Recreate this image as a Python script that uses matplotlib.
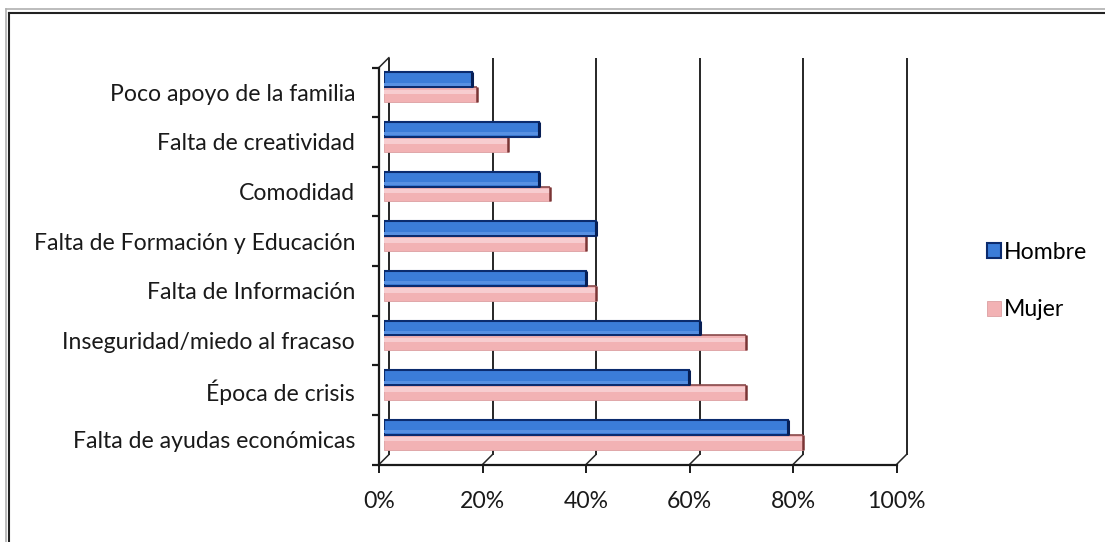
import matplotlib
matplotlib.use("Agg")
import matplotlib.pyplot as plt
from matplotlib import font_manager as fm
from matplotlib.transforms import ScaledTranslation, blended_transform_factory
from matplotlib.patches import ConnectionPatch
from matplotlib.lines import Line2D
import numpy as np

# ---------------- data ----------------
categories = [
    "Poco apoyo de la familia",
    "Falta de creatividad",
    "Comodidad",
    "Falta de Formación y Educación",
    "Falta de Información",
    "Inseguridad/miedo al fracaso",
    "Época de crisis",
    "Falta de ayudas económicas",
]
hombre = [0.17, 0.30, 0.30, 0.41, 0.39, 0.61, 0.59, 0.78]
mujer = [0.18, 0.24, 0.32, 0.39, 0.41, 0.70, 0.70, 0.81]
series_names = ["Hombre", "Mujer"]
xticks = [0.0, 0.2, 0.4, 0.6, 0.8, 1.0]
xticklabels = ["0%", "20%", "40%", "60%", "80%", "100%"]

# ---------------- font ----------------
avail = {f.name for f in fm.fontManager.ttflist}
family = next((f for f in ["Lato", "Open Sans", "DejaVu Sans"] if f in avail),
              "DejaVu Sans")
plt.rcParams["font.family"] = [family, "DejaVu Sans"]

W, H, DPI = 1105, 542, 100
fig = plt.figure(figsize=(W / DPI, H / DPI), dpi=DPI)
fig.patch.set_facecolor("white")

# axes at mid depth of the 3D box
ax = fig.add_axes([384 / W, 1 - 459.5 / H, 517.5 / W, 397 / H])
ax.set_xlim(0, 1)
ax.set_ylim(-0.5, len(categories) - 0.5)
ax.axis("off")

def px(dx, dy):
    return ScaledTranslation(dx / DPI, dy / DPI, fig.dpi_scale_trans)

D = 5.0
back = ax.transData + px(D, D)
front = ax.transData + px(-D, -D)

n = len(categories)
ypos = np.arange(n)[::-1]  # first category at top
ytop = n - 0.5
ybot = -0.5

# fit font size to the reference label width
renderer = fig.canvas.get_renderer()
t = fig.text(0, 0, categories[-1], fontsize=16)
wpx = t.get_window_extent(renderer).width
t.remove()
fs = 16 * 282.0 / wpx

grid_c = "#262626"
# back wall gridlines
for v in xticks:
    ax.plot([v, v], [ybot, ytop], transform=back, color=grid_c, lw=1.4, zorder=1,
            solid_capstyle="butt", clip_on=False)
# floor depth lines
for v in xticks:
    cp = ConnectionPatch(xyA=(v, ybot), coordsA=front, xyB=(v, ybot), coordsB=back,
                         color=grid_c, lw=1.1, zorder=1, clip_on=False)
    ax.add_artist(cp)
# left wall top depth line
ax.add_artist(ConnectionPatch(xyA=(0, ytop), coordsA=front, xyB=(0, ytop), coordsB=back,
                              color=grid_c, lw=1.1, zorder=1, clip_on=False))

# bars
h = 0.30
mb = ax.barh(ypos - h / 2, mujer, height=h, color="#f2b2b4", edgecolor="#dc9fa2",
             linewidth=0.6, zorder=3, label=series_names[1])
hb = ax.barh(ypos + h / 2, hombre, height=h, color="#3b7cd8", edgecolor="#0b2b6e",
             linewidth=1.5, zorder=4, label=series_names[0])
# highlight strips
ax.barh(ypos + h / 2 - h * 0.30, hombre, height=h * 0.20, color="#5790e2",
        linewidth=0, zorder=4.5)
ax.barh(ypos - h / 2 + h * 0.20, mujer, height=h * 0.30, color="#f7cdd0",
        linewidth=0, zorder=3.5)
# top face edge of the pink bars (visible beyond the blue ones)
ax.hlines(ypos, 0, mujer, color="#8a4a4c", lw=1.2, zorder=3.7)
# end caps (side faces)
ax.vlines(hombre, ypos, ypos + h, color="#071f55", lw=2.2, zorder=5)
ax.vlines(mujer, ypos - h, ypos, color="#7a3535", lw=1.8, zorder=3.8)

# front axes
ax.plot([0, 1], [ybot, ybot], transform=front, color="#1a1a1a", lw=1.6, zorder=6,
        clip_on=False)
ax.plot([0, 0], [ybot, ytop], transform=front, color="#1a1a1a", lw=1.6, zorder=6,
        clip_on=False)
ax.plot(xticks, [ybot] * len(xticks), transform=front, ls="", marker=3,
        markersize=6, mew=1.4, color="#1a1a1a", zorder=6, clip_on=False)
yb = np.arange(n + 1) - 0.5
ax.plot([0] * len(yb), yb, transform=front, ls="", marker=0,
        markersize=5, mew=1.6, color="#1a1a1a", zorder=6, clip_on=False)

# category labels
ytrans = blended_transform_factory(ax.transAxes, ax.transData)
for yi, lab in zip(ypos, categories):
    ax.text(0, yi, lab, transform=ytrans + px(-29, -7), ha="right", va="center",
            fontsize=fs, color="#1a1a1a")

# x tick labels
xtrans = blended_transform_factory(ax.transData, ax.transAxes)
for v, lab in zip(xticks, xticklabels):
    ax.text(v, 0, lab, transform=xtrans + px(-D, -42), ha="center", va="center",
            fontsize=fs, color="#1a1a1a")

# legend
leg = fig.legend(handles=[hb, mb], labels=series_names, loc="center left",
                 bbox_to_anchor=(976 / W, 1 - 281 / H), frameon=False,
                 fontsize=fs, handlelength=0.6, handleheight=0.6,
                 handletextpad=0.12, labelspacing=1.6, borderpad=0)

# outer frame (top and left)
fig.add_artist(Line2D([6 / W, 6 / W], [0, 1 - 9 / H], transform=fig.transFigure,
                      color="#b0b0b0", lw=1.2))
fig.add_artist(Line2D([6 / W, 1], [1 - 9 / H, 1 - 9 / H], transform=fig.transFigure,
                      color="#b0b0b0", lw=1.2))
fig.add_artist(Line2D([8.5 / W, 8.5 / W], [0, 1 - 13 / H], transform=fig.transFigure,
                      color="#222222", lw=1.5))
fig.add_artist(Line2D([8.5 / W, 1], [1 - 13 / H, 1 - 13 / H], transform=fig.transFigure,
                      color="#222222", lw=1.5))

fig.savefig("out.png", dpi=DPI, facecolor="white")
